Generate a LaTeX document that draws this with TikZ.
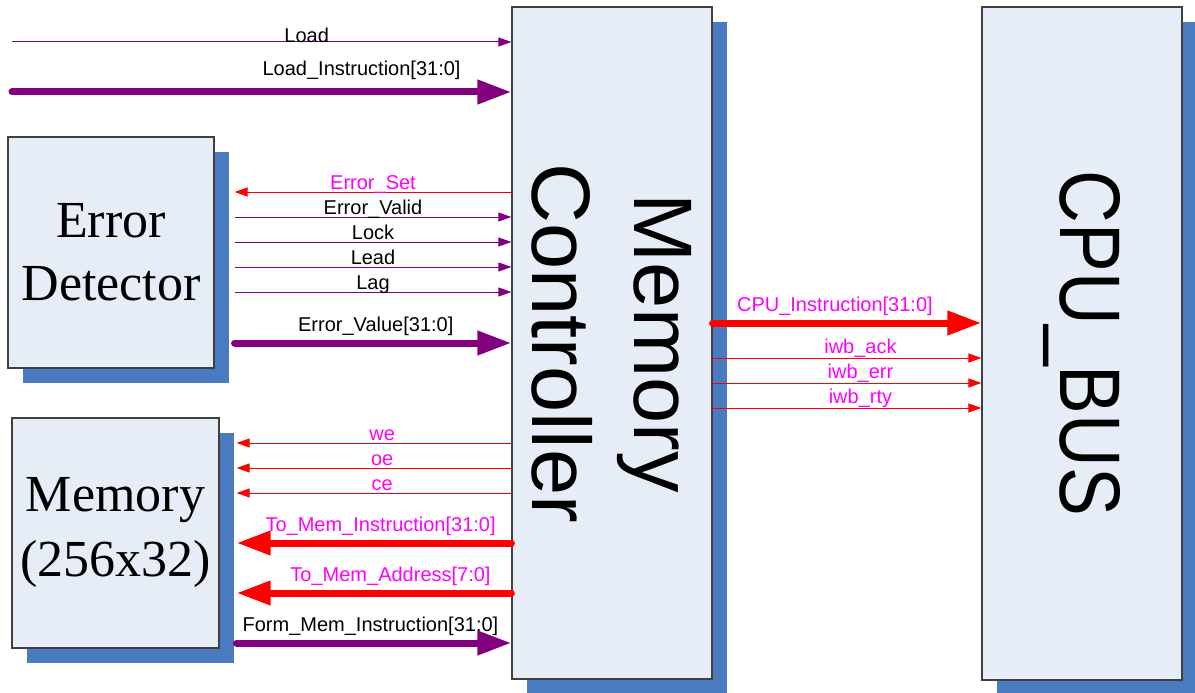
\documentclass[tikz,border=0pt]{standalone}
\usepackage{fontspec}
\setmainfont{Liberation Sans}
\newfontfamily\blockfont{Liberation Serif}
\usetikzlibrary{arrows.meta}

\definecolor{boxfill}{RGB}{230,237,247}
\definecolor{boxshadow}{RGB}{74,122,192}
\definecolor{boxline}{RGB}{64,64,64}
\definecolor{sigpurple}{RGB}{128,0,128}
\definecolor{sigred}{RGB}{255,0,0}
\definecolor{lblpink}{RGB}{255,0,255}

\tikzset{
	block/.style={draw=boxline, line width=1.2pt, fill=boxfill, inner sep=0pt,
		preaction={fill=boxshadow, transform canvas={shift={(15pt,-15pt)}}}},
	thinsig/.style={-{Triangle[length=13pt,width=9pt]}, line width=1pt},
	thicksig/.style={-{Triangle[length=34pt,width=23pt]}, line width=7pt, line cap=round},
	lbl/.style={anchor=base, inner sep=0pt, yshift=3pt, font=\fontsize{20}{24}\selectfont},
	lblthick/.style={lbl, yshift=9pt},
}

\begin{document}
\begin{tikzpicture}[x=1pt, y=-1pt]
	\useasboundingbox (0,0) rectangle (1195,693);
	
	\node[block, minimum width=206pt, minimum height=231pt, align=center,
		font=\blockfont\fontsize{52}{63}\selectfont] (ed) at (111,252.5) {Error\\Detector};
	\node[block, minimum width=207pt, minimum height=230pt, align=center,
		font=\blockfont\fontsize{52}{65}\selectfont] (mem) at (115.5,533) {Memory\\(256x32)};
	
	\node[block, minimum width=200pt, minimum height=672pt] (mc) at (612,343) {};
	\node[block, minimum width=200pt, minimum height=673pt] (bus) at (1082,343.5) {};
	
	\node[rotate=-90, align=center, font=\fontsize{83}{102}\selectfont] (mctext) at (mc) {Memory\\Controller};
	\node[rotate=-90, font=\fontsize{86}{100}\selectfont] (bustext) at (bus) {\scalebox{0.85}[1]{CPU\_BUS}};
	
	\coordinate (loadin) at (12,42);
	\coordinate (instrin) at (12,92);
	\coordinate (edout) at ([xshift=20pt]ed.east);
	\coordinate (memout) at ([xshift=17pt]mem.east);
	
	% inputs
	\path[thinsig, sigpurple] (loadin) edge node[lbl, pos=0.59, yshift=-4pt, black] {Load} (mc.west |- loadin);
	\path[thicksig, sigpurple] (instrin) edge node[lblthick, pos=0.70, yshift=4pt, black] {Load\_Instruction[31:0]} (mc.west |- instrin);
	
	% error detector
	\path[thinsig, sigred] (mc.west |- 0,192) edge node[lbl, text=lblpink] {Error\_Set} (edout |- 0,192);
	\foreach \y/\name in {217/Error\_Valid, 242/Lock, 267/Lead, 292/Lag}
		\path[thinsig, sigpurple] (edout |- 0,\y) edge node[lbl, black] {\name} (mc.west |- 0,\y);
	\path[thicksig, sigpurple] (edout |- 0,343) edge node[lblthick, pos=0.51, black] {Error\_Value[31:0]} (mc.west |- 0,343);
	
	% memory
	\foreach \y/\name in {443/we, 468/oe, 493/ce}
		\path[thinsig, sigred] (mc.west |- 0,\y) edge node[lbl, pos=0.47, text=lblpink] {\name} (memout |- 0,\y);
	\path[thicksig, sigred] (mc.west |- 0,543) edge node[lblthick, pos=0.476, text=lblpink] {To\_Mem\_Instruction[31:0]} (memout |- 0,543);
	\path[thicksig, sigred] (mc.west |- 0,593) edge node[lblthick, pos=0.44, text=lblpink] {To\_Mem\_Address[7:0]} (memout |- 0,593);
	\path[thicksig, sigpurple] (memout |- 0,643) edge node[lblthick, pos=0.487, black] {Form\_Mem\_Instruction[31:0]} (mc.west |- 0,643);
	
	% cpu bus
	\path[thicksig, sigred] (mc.east |- 0,323) edge node[lblthick, pos=0.455, text=lblpink] {CPU\_Instruction[31:0]} (bus.west |- 0,323);
	\foreach \y/\name in {358/iwb\_ack, 383/iwb\_err, 408/iwb\_rty}
		\path[thinsig, sigred] (mc.east |- 0,\y) edge node[lbl, pos=0.55, yshift=2pt, text=lblpink] {\name} (bus.west |- 0,\y);
	
\end{tikzpicture}
\end{document}
